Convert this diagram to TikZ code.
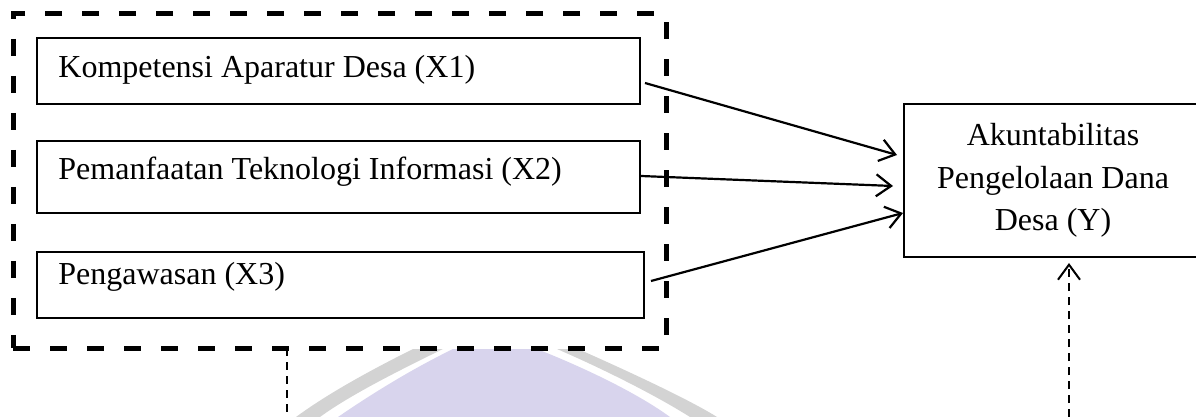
\documentclass[tikz,border=0pt]{standalone}
\usepackage{fontspec}
\setmainfont{Liberation Serif}
\usetikzlibrary{arrows.meta,calc}

\definecolor{wmlav}{RGB}{216,212,237}
\definecolor{wmgrey}{RGB}{211,211,211}

\begin{document}
\begin{tikzpicture}[x=0.5pt,y=-0.5pt,
  txt/.style={font=\fontsize{16pt}{21.25pt}\selectfont},
  varbox/.style={draw, line width=0.65pt, rectangle, inner sep=0pt, outer sep=0pt, anchor=north west},
  lbl/.style={txt, anchor=base west, inner sep=0pt},
  groupbox/.style={draw, line width=2.5pt, dash pattern=on 8.5pt off 10pt, rectangle, inner sep=0pt, outer sep=0pt, anchor=north west},
  arr/.style={line width=1.1pt, -{Straight Barb[length=7.5pt,width=11pt,line width=1.1pt]}},
  thindash/.style={line width=0.9pt, dash pattern=on 3.8pt off 3.2pt},
]
\useasboundingbox (0,0) rectangle (1196,417);

% faint logo in the background
\fill[wmlav] (453,349) -- (537,349) .. controls (590,370) and (640,395) .. (670,417)
  -- (338,417) .. controls (370,395) and (410,370) .. (453,349) -- cycle;
\fill[wmgrey] (413,349) -- (443,349) .. controls (400,370) and (350,395) .. (320,417)
  -- (296,417) .. controls (330,392) and (375,368) .. (413,349) -- cycle;
\fill[wmgrey] (557,349) -- (578,349) .. controls (630,372) and (690,400) .. (717,417)
  -- (690,417) .. controls (660,398) and (610,372) .. (557,349) -- cycle;

% independent variables
\node[groupbox, minimum width=326.5pt, minimum height=167pt] (grp) at (13,14) {};
\node[varbox, minimum width=301.5pt, minimum height=33pt] (x1) at (37,38) {};
\node[varbox, minimum width=301.5pt, minimum height=36pt] (x2) at (37,141) {};
\node[varbox, minimum width=303.5pt, minimum height=33pt] (x3) at (37,252) {};
\node[lbl] (x1t) at (58,78) {Kompetensi Aparatur Desa (X1)};
\node[lbl] (x2t) at (58,180) {Pemanfaatan Teknologi Informasi (X2)};
\node[lbl] (x3t) at (58,285) {Pengawasan (X3)};

% dependent variable
\node[varbox, txt, anchor=center, minimum width=149pt, minimum height=76.5pt, align=center] (y) at (1053,180.5)
  {Akuntabilitas\\Pengelolaan Dana\\Desa (Y)};

% effects
\draw[arr] ($(x1.east)+(5,12)$) -- ($(y.west)+(-7,-25.5)$);
\draw[arr] ($(x2.east)+(1,-1)$) -- ($(y.west)+(-11,5.5)$);
\draw[arr] ($(x3.east)+(7,-4)$) -- ($(y.west)+(-1,32.5)$);

% dashed links to the lower edge
\coordinate (lbot) at (287,417);
\coordinate (ybot) at (1069,417);
\draw[thindash] ($(grp.south west)+(274,0)$) -- (lbot);
\draw[thindash, -{Straight Barb[length=7.5pt,width=11pt,line width=1pt]}] (ybot) -- ($(y.south)+(16,6)$);
\end{tikzpicture}
\end{document}
